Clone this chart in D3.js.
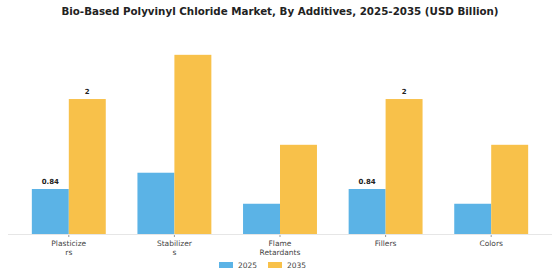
<!DOCTYPE html>
<html>
<head>
<meta charset="utf-8">
<script src="https://cdn.jsdelivr.net/npm/d3@7"></script>
<style>
  body { margin: 0; background: #fff; }
  text { font-family: "DejaVu Sans", sans-serif; }
</style>
</head>
<body>
<div id="chart"></div>
<script>
// chart data
const categories = ["Plasticizers", "Stabilizers", "Flame Retardants", "Fillers", "Colors"];
const tickLabels = [["Plasticize", "rs"], ["Stabilizer", "s"], ["Flame", "Retardants"], ["Fillers"], ["Colors"]];
const years = ["2025", "2035"];
const values2025 = [0.84, 1.05, 0.65, 0.84, 0.65];
const values2035 = [2, 2.57, 1.41, 2, 1.41];
const labelled = ["Plasticizers", "Fillers"];

const colors = {"2025": "#5BB3E6", "2035": "#F8C14A"};

const width = 560, height = 280;

const svg = d3.select("#chart").append("svg")
    .attr("width", width)
    .attr("height", height);

svg.append("text")
    .text("Bio-Based Polyvinyl Chloride Market, By Additives, 2025-2035 (USD Billion)")
    .attr("x", width / 2)
    .attr("y", 14.5)
    .attr("text-anchor", "middle")
    .attr("font-size", "10.3px")
    .attr("font-weight", "bold")
    .attr("fill", "#222");

let x = d3.scaleBand()
    .domain(categories)
    .range([16, 544])
    .paddingInner(0.3)
    .paddingOuter(0.15);

let xInner = d3.scaleBand()
    .domain(years)
    .range([0, x.bandwidth()]);

// baseline is not at zero in the original picture
let y = d3.scaleLinear()
    .domain([0.26, 2.89])
    .range([234, 30]);

let rows = categories.map((c, i) => ({cat: c, vals: [values2025[i], values2035[i]]}));

let groups = svg.selectAll("g.grp")
    .data(rows)
    .join("g")
    .attr("class", "grp")
    .attr("transform", d => `translate(${x(d.cat)},0)`);

groups.selectAll("rect")
    .data(d => years.map((yr, j) => ({yr: yr, v: d.vals[j], cat: d.cat})))
    .join("rect")
    .attr("x", d => xInner(d.yr))
    .attr("y", d => y(d.v))
    .attr("width", xInner.bandwidth())
    .attr("height", d => y.range()[0] - y(d.v))
    .attr("fill", d => colors[d.yr]);

// value labels only on some groups
groups.filter(d => labelled.includes(d.cat)).selectAll("text.val")
    .data(d => years.map((yr, j) => ({yr: yr, v: d.vals[j]})))
    .join("text")
    .attr("class", "val")
    .text(d => d.v)
    .attr("x", d => xInner(d.yr) + xInner.bandwidth() / 2)
    .attr("y", d => y(d.v) - 5)
    .attr("text-anchor", "middle")
    .attr("font-size", "7px")
    .attr("font-weight", "bold")
    .attr("fill", "#222");

// x axis
let xAxis = d3.axisBottom(x).tickSize(3).tickFormat("");
let axisG = svg.append("g")
    .attr("transform", `translate(0,${y.range()[0]})`)
    .call(xAxis);
axisG.select(".domain").remove();
axisG.selectAll(".tick line").attr("stroke", "#999");

svg.append("line")
    .attr("x1", 8).attr("x2", 552)
    .attr("y1", y.range()[0] + 0.5).attr("y2", y.range()[0] + 0.5)
    .attr("stroke", "#e6e6e6");

svg.selectAll("text.tick-lbl")
    .data(categories)
    .join("text")
    .attr("class", "tick-lbl")
    .attr("x", d => x(d) + x.bandwidth() / 2)
    .attr("y", 246)
    .attr("text-anchor", "middle")
    .attr("font-size", "7.5px")
    .attr("fill", "#444")
    .selectAll("tspan")
    .data((d, i) => tickLabels[i])
    .join("tspan")
    .attr("x", function() { return this.parentNode.getAttribute("x"); })
    .attr("dy", (d, i) => i === 0 ? 0 : 8.5)
    .text(d => d);

// legend
let legend = svg.selectAll("g.leg")
    .data(years)
    .join("g")
    .attr("class", "leg")
    .attr("transform", (d, i) => `translate(${219 + i * 49}, 262)`);

legend.append("rect")
    .attr("width", 14)
    .attr("height", 6)
    .attr("fill", d => colors[d]);

legend.append("text")
    .text(d => d)
    .attr("x", 19)
    .attr("y", 6)
    .attr("font-size", "7.5px")
    .attr("fill", "#444");
</script>
</body>
</html>
